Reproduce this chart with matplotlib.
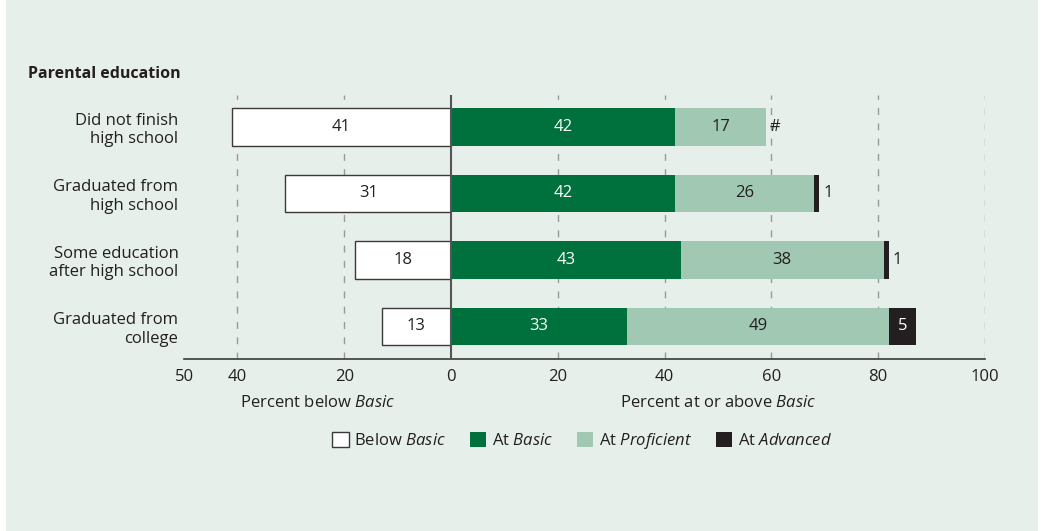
import matplotlib
matplotlib.use("Agg")
import matplotlib.pyplot as plt
from matplotlib.patches import Rectangle, Patch

plt.rcParams['font.family'] = ['Open Sans', 'DejaVu Sans']
plt.rcParams['mathtext.fontset'] = 'custom'
plt.rcParams['mathtext.it'] = 'Open Sans:italic'
plt.rcParams['mathtext.rm'] = 'Open Sans'

# data
categories = ["Did not finish\nhigh school", "Graduated from\nhigh school",
              "Some education\nafter high school", "Graduated from\ncollege"]
below_basic = [41, 31, 18, 13]
at_basic = [42, 42, 43, 33]
at_proficient = [17, 26, 38, 49]
at_advanced = [0, 1, 1, 5]
advanced_labels = ["#", "1", "1", "5"]
left_ticks = [50, 40, 20, 0]
right_ticks = [20, 40, 60, 80, 100]

BG = "#e6efea"
TXT = "#231f20"
GREEN = "#00703c"
LIGHT = "#a0c8b2"
BLACK = "#231f20"

fig = plt.figure(figsize=(10.41, 5.31), dpi=100)
fig.patch.set_facecolor("white")
fig.patches.append(Rectangle((6/1041, 0), 1032/1041, 1, transform=fig.transFigure,
                             facecolor=BG, edgecolor="none", zorder=-10))

ax = fig.add_axes([184/1041, 1 - 359/531, 801/1041, 264/531])
ax.set_facecolor("none")
ax.set_xlim(-50, 100)
ax.set_ylim(3.49, -0.48)

ys = list(range(len(categories)))
h = 0.56

# dashed gridlines
for gx in [-40, -20, 20, 40, 60, 80, 100]:
    ax.axvline(gx, color="#9a9a9a", lw=1.0, ls=(0, (5, 6)), zorder=0)
ax.axvline(0, color="#555555", lw=1.5, zorder=5)

ax.barh(ys, [-v for v in below_basic], height=h, color="white", edgecolor="#3a3a3a", lw=1.0, zorder=3)
ax.barh(ys, at_basic, height=h, color=GREEN, zorder=3)
ax.barh(ys, at_proficient, left=at_basic, height=h, color=LIGHT, zorder=3)
lefts = [a + b for a, b in zip(at_basic, at_proficient)]
ax.barh(ys, at_advanced, left=lefts, height=h, color=BLACK, zorder=3)

fs = 12
for y, bb, ab, pr, ad, lab, l in zip(ys, below_basic, at_basic, at_proficient,
                                     at_advanced, advanced_labels, lefts):
    ax.text(-bb / 2, y, str(bb), ha="center", va="center", fontsize=fs, color=TXT, zorder=6)
    ax.text(ab / 2, y, str(ab), ha="center", va="center", fontsize=fs, color="white", zorder=6)
    ax.text(ab + pr / 2, y, str(pr), ha="center", va="center", fontsize=fs, color=TXT, zorder=6)
    if ad >= 3:
        ax.text(l + ad / 2, y, lab, ha="center", va="center", fontsize=fs, color="white", zorder=6)
    else:
        ax.text(l + ad + 0.7, y, lab, ha="left", va="center", fontsize=fs, color=TXT, zorder=6)

for s in ["top", "right", "left"]:
    ax.spines[s].set_visible(False)
ax.spines["bottom"].set_color("#3a3a3a")
ax.spines["bottom"].set_linewidth(1.2)

ticks = [-t for t in left_ticks] + right_ticks
ax.set_xticks(ticks)
ax.set_xticklabels([str(t) for t in left_ticks] + [str(t) for t in right_ticks],
                   fontsize=fs, color=TXT)
ax.tick_params(axis="x", length=0, pad=7)
ax.set_yticks(ys)
ax.set_yticklabels(categories, fontsize=fs, color=TXT, linespacing=1.2)
ax.tick_params(axis="y", length=0, pad=4)

ax.text(-25, -0.167, r"Percent below $\mathit{Basic}$", transform=ax.get_xaxis_transform(),
        ha="center", va="center", fontsize=fs, color=TXT)
ax.text(50, -0.167, r"Percent at or above $\mathit{Basic}$", transform=ax.get_xaxis_transform(),
        ha="center", va="center", fontsize=fs, color=TXT)
fig.text(28/1041, 1 - 74/531, "Parental education", fontsize=fs - 0.5, fontweight="bold",
         color=TXT, va="center", ha="left")

handles = [Patch(facecolor="white", edgecolor="#3a3a3a", lw=1.0),
           Patch(facecolor=GREEN), Patch(facecolor=LIGHT), Patch(facecolor=BLACK)]
labels = [r"Below $\mathit{Basic}$", r"At $\mathit{Basic}$",
          r"At $\mathit{Proficient}$", r"At $\mathit{Advanced}$"]
fig.legend(handles, labels, loc="center", bbox_to_anchor=(582/1041, 1 - 441/531), ncol=4,
           frameon=False, fontsize=fs, handlelength=1.0, handleheight=1.0,
           handletextpad=0.35, columnspacing=1.4, labelcolor=TXT)

fig.savefig("out.png", dpi=100, facecolor=fig.get_facecolor())
